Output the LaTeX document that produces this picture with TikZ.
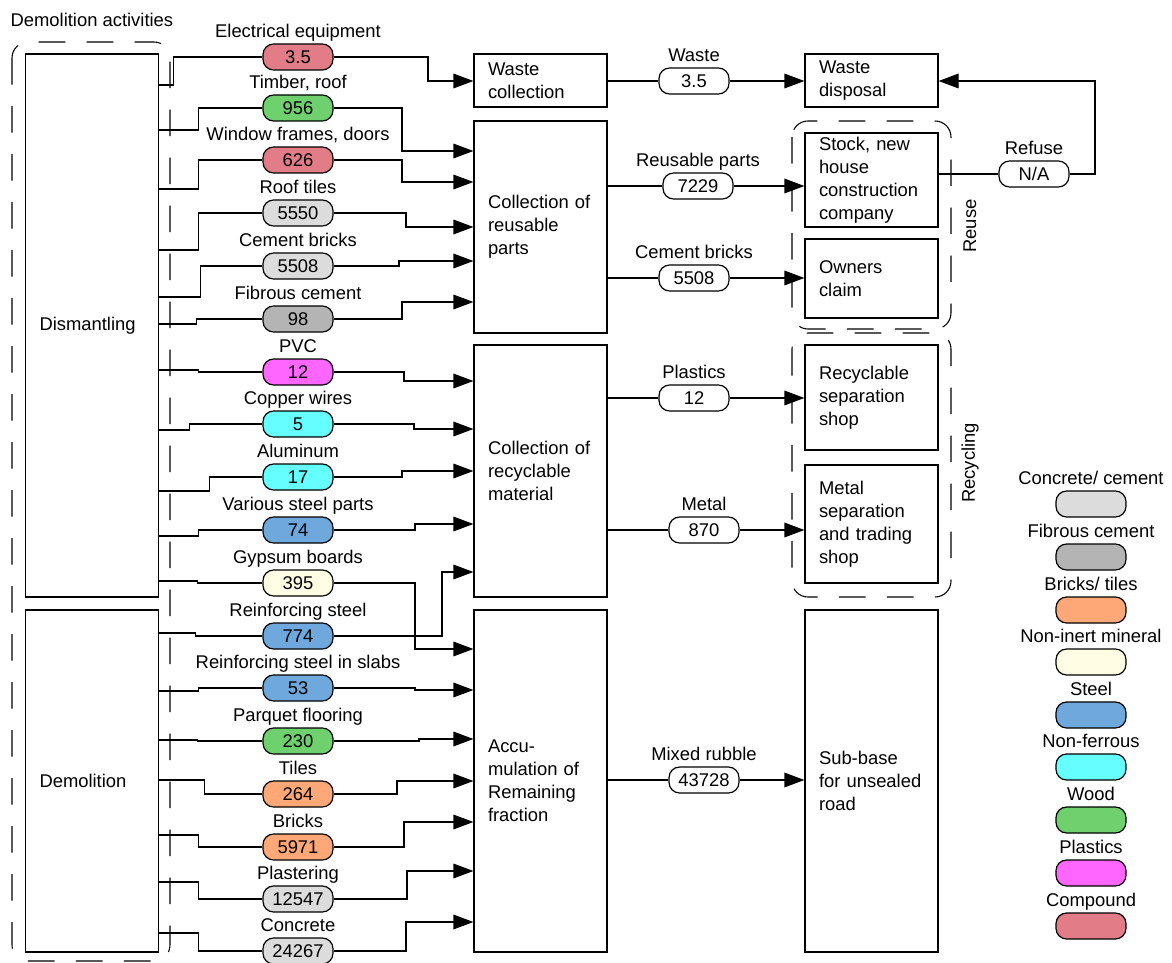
\documentclass[tikz,border=0pt]{standalone}
\usepackage{fontspec}
\setmainfont{Liberation Sans}
\usetikzlibrary{arrows.meta,positioning}

% material colours
\definecolor{concrete}{HTML}{DCDCDC}
\definecolor{fibrous}{HTML}{B4B4B4}
\definecolor{bricks}{HTML}{FFA877}
\definecolor{noninert}{HTML}{FFFDE3}
\definecolor{steel}{HTML}{6FA8DC}
\definecolor{nonferrous}{HTML}{66FFFF}
\definecolor{wood}{HTML}{6ED16E}
\definecolor{plastics}{HTML}{FF66FF}
\definecolor{compound}{HTML}{E27C86}

\begin{document}
\begin{tikzpicture}[x=0.75pt,y=0.75pt,yscale=-1,line width=0.9pt,
	every node/.style={font=\fontsize{13.8}{17.25}\selectfont},
	box/.style={draw,inner xsep=10.5pt,inner ysep=0pt,align=left,text width=78.75pt,minimum width=99.75pt},
	pill/.style={draw,rounded corners=8pt,minimum width=52.5pt,minimum height=19.5pt,inner sep=0pt},
	lbl/.style={inner sep=0pt,text height=10pt,text depth=3pt},
	flow/.style={-{Triangle[length=15pt,width=11pt]}},
	grp/.style={line width=0.8pt,dash pattern=on 20pt off 16pt,rounded corners=12pt}]
	\useasboundingbox (0,0) rectangle (1172,963);

	% dashed groups
	\draw[grp] (12,42) rectangle (170,961);
	\draw[grp] (792,121) rectangle (951,329);
	\draw[grp] (792,333) rectangle (951,597);
	\node[anchor=west,inner sep=0pt] (title) at (10,20) {Demolition activities};
	\node[rotate=90,inner sep=0pt] (reuselbl) at (970,226) {Reuse};
	\node[rotate=90,inner sep=0pt] (recyclbl) at (970,463) {Recycling};

	% activities
	\node[box,minimum height=407.25pt] (dism) at (92,325.5) {Dismantling};
	\node[box,minimum height=256.5pt] (demol) at (92,781) {Demolition};

	% collection
	\node[box,minimum height=39.75pt] (wcoll) at (540.5,80.5) {Waste\\collection};
	\node[box,minimum height=159pt] (reuse) at (540.5,227) {Collection of\\reusable\\parts};
	\node[box,minimum height=189pt] (recyc) at (540.5,471) {Collection of\\recyclable\\material};
	\node[box,minimum height=256.5pt] (accum) at (540.5,781) {Accu-\\mulation of\\Remaining\\fraction};

	% destinations
	\node[box,minimum height=39.75pt] (wdisp) at (871.5,80.5) {Waste\\disposal};
	\node[box,minimum height=70.5pt] (stock) at (871.5,180) {Stock, new\\house\\construction\\company};
	\node[box,minimum height=59.25pt] (owners) at (871.5,278.5) {Owners\\claim};
	\node[box,minimum height=78.75pt] (rshop) at (871.5,397.5) {Recyclable\\separation\\shop};
	\node[box,minimum height=88.5pt] (mshop) at (871.5,524) {Metal\\separation\\and trading\\shop};
	\node[box,minimum height=256.5pt] (subbase) at (871.5,781) {Sub-base\\for unsealed\\road};

	% materials out of the activities
	\node[pill,fill=compound] (ee) at (298,57) {3.5};
	\node[lbl,above=1pt of ee] (eet) {Electrical equipment};
	\node[pill,fill=wood] (tr) at (298,108) {956};
	\node[lbl,above=1pt of tr] (trt) {Timber, roof};
	\node[pill,fill=compound] (wf) at (298,160) {626};
	\node[lbl,above=1pt of wf] (wft) {Window frames, doors};
	\node[pill,fill=concrete] (rt) at (298,213) {5550};
	\node[lbl,above=1pt of rt] (rtt) {Roof tiles};
	\node[pill,fill=concrete] (cb) at (298,266) {5508};
	\node[lbl,above=1pt of cb] (cbt) {Cement bricks};
	\node[pill,fill=fibrous] (fc) at (298,319) {98};
	\node[lbl,above=1pt of fc] (fct) {Fibrous cement};
	\node[pill,fill=plastics] (pvc) at (298,372) {12};
	\node[lbl,above=1pt of pvc] (pvct) {PVC};
	\node[pill,fill=nonferrous] (cu) at (298,424) {5};
	\node[lbl,above=1pt of cu] (cut) {Copper wires};
	\node[pill,fill=nonferrous] (al) at (298,477) {17};
	\node[lbl,above=1pt of al] (alt) {Aluminum};
	\node[pill,fill=steel] (vs) at (298,530) {74};
	\node[lbl,above=1pt of vs] (vst) {Various steel parts};
	\node[pill,fill=noninert] (gy) at (298,583) {395};
	\node[lbl,above=1pt of gy] (gyt) {Gypsum boards};
	\node[pill,fill=steel] (rs) at (298,636) {774};
	\node[lbl,above=1pt of rs] (rst) {Reinforcing steel};
	\node[pill,fill=steel] (rss) at (298,688) {53};
	\node[lbl,above=1pt of rss] (rsst) {Reinforcing steel in slabs};
	\node[pill,fill=wood] (pq) at (298,741) {230};
	\node[lbl,above=1pt of pq] (pqt) {Parquet flooring};
	\node[pill,fill=bricks] (ti) at (298,794) {264};
	\node[lbl,above=1pt of ti] (tit) {Tiles};
	\node[pill,fill=bricks] (br) at (298,847) {5971};
	\node[lbl,above=1pt of br] (brt) {Bricks};
	\node[pill,fill=concrete] (pl) at (298,899) {12547};
	\node[lbl,above=1pt of pl] (plt) {Plastering};
	\node[pill,fill=concrete] (co) at (298,951) {24267};
	\node[lbl,above=1pt of co] (cot) {Concrete};

	% activity -> material
	\draw (dism.east |- 0,85) -- ++(14,0) |- (ee.west);
	\draw (dism.east |- 0,130) -- ++(39,0) |- (tr.west);
	\draw (dism.east |- 0,189) -- ++(39,0) |- (wf.west);
	\draw (dism.east |- 0,250) -- ++(39,0) |- (rt.west);
	\draw (dism.east |- 0,297) -- ++(41,0) |- (cb.west);
	\draw (dism.east |- 0,324) -- ++(37,0) |- (fc.west);
	\draw (dism.east |- 0,370) -- ++(39,0) |- (pvc.west);
	\draw (dism.east |- 0,430) -- ++(30,0) |- (cu.west);
	\draw (dism.east |- 0,491) -- ++(50,0) |- (al.west);
	\draw (dism.east |- 0,536) -- ++(39,0) |- (vs.west);
	\draw (dism.east |- 0,581) -- ++(38,0) |- (gy.west);
	\draw (demol.east |- 0,633) -- ++(36,0) |- (rs.west);
	\draw (demol.east |- 0,691) -- ++(39,0) |- (rss.west);
	\draw (demol.east |- 0,740) -- ++(38,0) |- (pq.west);
	\draw (demol.east |- 0,780) -- ++(45,0) |- (ti.west);
	\draw (demol.east |- 0,835) -- ++(39,0) |- (br.west);
	\draw (demol.east |- 0,882) -- ++(39,0) |- (pl.west);
	\draw (demol.east |- 0,933) -- ++(39,0) |- (co.west);

	% material -> collection
	\draw[flow] (ee.east) -| (428,81) -- (wcoll.west |- 0,81);
	\draw[flow] (tr.east) -| (402,151) -- (reuse.west |- 0,151);
	\draw[flow] (wf.east) -| (402,182) -- (reuse.west |- 0,182);
	\draw[flow] (rt.east) -| (406,227) -- (reuse.west |- 0,227);
	\draw[flow] (cb.east) -| (399,261) -- (reuse.west |- 0,261);
	\draw[flow] (fc.east) -| (402,302) -- (reuse.west |- 0,302);
	\draw[flow] (pvc.east) -| (404,381) -- (recyc.west |- 0,381);
	\draw[flow] (cu.east) -| (414,429) -- (recyc.west |- 0,429);
	\draw[flow] (al.east) -| (402,471) -- (recyc.west |- 0,471);
	\draw[flow] (vs.east) -| (415,524) -- (recyc.west |- 0,524);
	\draw[flow] (gy.east) -| (415,649) -- (accum.west |- 0,649);
	\draw[flow] (rs.east) -| (442,572) -- (recyc.west |- 0,572);
	\draw[flow] (rss.east) -| (415,690) -- (accum.west |- 0,690);
	\draw[flow] (pq.east) -| (419,739) -- (accum.west |- 0,739);
	\draw[flow] (ti.east) -| (397,781) -- (accum.west |- 0,781);
	\draw[flow] (br.east) -| (404,822) -- (accum.west |- 0,822);
	\draw[flow] (pl.east) -| (407,871) -- (accum.west |- 0,871);
	\draw[flow] (co.east) -| (406,922) -- (accum.west |- 0,922);

	% collection -> destination
	\node[pill,fill=white] (wst) at (694,81) {3.5};
	\node[lbl,above=1pt of wst] (wstt) {Waste};
	\node[pill,fill=white] (rp) at (698,186) {7229};
	\node[lbl,above=1pt of rp] (rpt) {Reusable parts};
	\node[pill,fill=white] (cbr) at (694,278) {5508};
	\node[lbl,above=1pt of cbr] (cbrt) {Cement bricks};
	\node[pill,fill=white] (pp) at (694,398) {12};
	\node[lbl,above=1pt of pp] (ppt) {Plastics};
	\node[pill,fill=white] (mp) at (704,530) {870};
	\node[lbl,above=1pt of mp] (mpt) {Metal};
	\node[pill,fill=white] (mr) at (704,780) {43728};
	\node[lbl,above=1pt of mr] (mrt) {Mixed rubble};
	\node[pill,fill=white] (rf) at (1034,174) {N/A};
	\node[lbl,above=1pt of rf] (rft) {Refuse};

	\draw (wcoll.east |- wst) -- (wst.west);
	\draw[flow] (wst.east) -- (wdisp.west |- wst);
	\draw (reuse.east |- rp) -- (rp.west);
	\draw[flow] (rp.east) -- (stock.west |- rp);
	\draw (reuse.east |- cbr) -- (cbr.west);
	\draw[flow] (cbr.east) -- (owners.west |- cbr);
	\draw (recyc.east |- pp) -- (pp.west);
	\draw[flow] (pp.east) -- (rshop.west |- pp);
	\draw (recyc.east |- mp) -- (mp.west);
	\draw[flow] (mp.east) -- (mshop.west |- mp);
	\draw (accum.east |- mr) -- (mr.west);
	\draw[flow] (mr.east) -- (subbase.west |- mr);
	\draw (stock.east |- rf) -- (rf.west);
	\draw[flow] (rf.east) -| (1095,81) -- (wdisp.east |- 0,81);

	% legend
	\node[pill,fill=concrete] (lg1) at (1091,504) {};
	\node[lbl,above=1pt of lg1] (lg1t) {Concrete/ cement};
	\node[pill,fill=fibrous] (lg2) at (1091,557) {};
	\node[lbl,above=1pt of lg2] (lg2t) {Fibrous cement};
	\node[pill,fill=bricks] (lg3) at (1091,610) {};
	\node[lbl,above=1pt of lg3] (lg3t) {Bricks/ tiles};
	\node[pill,fill=noninert] (lg4) at (1091,662) {};
	\node[lbl,above=1pt of lg4] (lg4t) {Non-inert mineral};
	\node[pill,fill=steel] (lg5) at (1091,715) {};
	\node[lbl,above=1pt of lg5] (lg5t) {Steel};
	\node[pill,fill=nonferrous] (lg6) at (1091,767) {};
	\node[lbl,above=1pt of lg6] (lg6t) {Non-ferrous};
	\node[pill,fill=wood] (lg7) at (1091,820) {};
	\node[lbl,above=1pt of lg7] (lg7t) {Wood};
	\node[pill,fill=plastics] (lg8) at (1091,873) {};
	\node[lbl,above=1pt of lg8] (lg8t) {Plastics};
	\node[pill,fill=compound] (lg9) at (1091,926) {};
	\node[lbl,above=1pt of lg9] (lg9t) {Compound};
\end{tikzpicture}
\end{document}
